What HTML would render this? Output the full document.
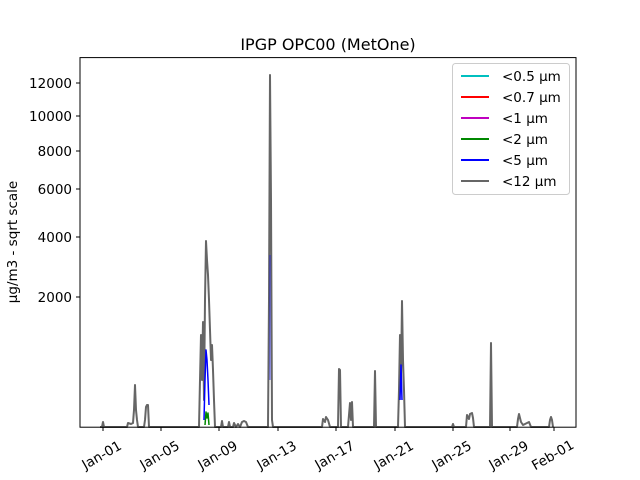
<!DOCTYPE html>
<html><head><meta charset="utf-8"><style>body{margin:0;background:#fff}svg{display:block}</style></head><body>
<svg width="640" height="480" xmlns="http://www.w3.org/2000/svg" font-family="DejaVu Sans, Liberation Sans, sans-serif">
<rect width="640" height="480" fill="#fff"/>
<text x="328" y="50" font-size="16" text-anchor="middle">IPGP OPC00 (MetOne)</text>
<text transform="translate(17,242) rotate(-90)" font-size="13.5" text-anchor="middle">µg/m3 - sqrt scale</text>
<g fill="none" stroke-linejoin="round">
<polyline stroke="#666" stroke-width="2" points="100,427 102,427 103,422 104,427 127,427 128,423 131,424 133,423 134,410 135,385 136,410 137,420 138,427 144,427 145,420 146,407 147,405 148,405 149,427 199,427 200,380 201,335 202,380 203,322 204,400 205,300 206,241 207,260 208,275 209,300 210,330 211,360 212,345 213,370 214,400 215,427 221,427 222,421 223,427 228,427 229,422 230,427 233,427 234,423 236,427 238,424 240,427 242,422 244,421 246,422 248,427 268,427 269,300 270,75 271,200 272,420 273,427 322,427 323,419 325,422 326,417 328,420 330,427 338,427 339,369 340,370 341,427 348,427 349,415 350,403 351,420 352,402 353,427 374,427 375,371 376,427 398,427 399,390 400,335 401,380 402,301 403,360 404,390 405,427 452,427 453,424 454,427 466,427 467,415 469,419 470,414 472,413 473,418 474,427 490,427 491,343 492,427 517,427 518,419 519,414 521,422 523,425 529,422 531,427 549,427 550,420 551,417 552,420 553,427"/>
<polyline stroke="#00f" stroke-width="1.5" points="204,420 205,380 206,350 207,360 208,380 209,405"/>
<polyline stroke="#00f" stroke-width="1" stroke-opacity="0.6" points="270,380 270,255"/>
<polyline stroke="#00f" stroke-width="1.5" points="400,400 401,365 402,400"/>
<polyline stroke="#080" stroke-width="1.5" points="205,425 206,412 207,418 208,413 209,425"/>
</g>
<rect x="80" y="57.6" width="496" height="369.6" fill="none" stroke="#000" stroke-width="1"/>
<g font-size="13.5" text-anchor="end">
<line x1="76" y1="83" x2="80" y2="83" stroke="#000"/><text x="72" y="88">12000</text>
<line x1="76" y1="116" x2="80" y2="116" stroke="#000"/><text x="72" y="121">10000</text>
<line x1="76" y1="151" x2="80" y2="151" stroke="#000"/><text x="72" y="156">8000</text>
<line x1="76" y1="189" x2="80" y2="189" stroke="#000"/><text x="72" y="194">6000</text>
<line x1="76" y1="237" x2="80" y2="237" stroke="#000"/><text x="72" y="242">4000</text>
<line x1="76" y1="297" x2="80" y2="297" stroke="#000"/><text x="72" y="302">2000</text>
</g>
<g font-size="13.5" text-anchor="middle">
<g transform="translate(103,427)"><line y2="4" stroke="#000"/><text transform="translate(1,32) rotate(-30)">Jan-01</text></g>
<g transform="translate(161,427)"><line y2="4" stroke="#000"/><text transform="translate(1,32) rotate(-30)">Jan-05</text></g>
<g transform="translate(219,427)"><line y2="4" stroke="#000"/><text transform="translate(1,32) rotate(-30)">Jan-09</text></g>
<g transform="translate(278,427)"><line y2="4" stroke="#000"/><text transform="translate(1,32) rotate(-30)">Jan-13</text></g>
<g transform="translate(336,427)"><line y2="4" stroke="#000"/><text transform="translate(1,32) rotate(-30)">Jan-17</text></g>
<g transform="translate(395,427)"><line y2="4" stroke="#000"/><text transform="translate(1,32) rotate(-30)">Jan-21</text></g>
<g transform="translate(453,427)"><line y2="4" stroke="#000"/><text transform="translate(1,32) rotate(-30)">Jan-25</text></g>
<g transform="translate(510,427)"><line y2="4" stroke="#000"/><text transform="translate(1,32) rotate(-30)">Jan-29</text></g>
<g transform="translate(554,427)"><line y2="4" stroke="#000"/><text transform="translate(1,32) rotate(-30)">Feb-01</text></g>
</g>
<rect x="452.5" y="63.5" width="117" height="131" rx="3" fill="#fff" fill-opacity="0.8" stroke="#ccc"/>
<g font-size="13.5" stroke-width="2">
<line x1="461" y1="76" x2="489" y2="76" stroke="#00bfbf"/><text x="502" y="81">&lt;0.5 µm</text>
<line x1="461" y1="97" x2="489" y2="97" stroke="#f00"/><text x="502" y="102">&lt;0.7 µm</text>
<line x1="461" y1="118" x2="489" y2="118" stroke="#bf00bf"/><text x="502" y="123">&lt;1 µm</text>
<line x1="461" y1="139" x2="489" y2="139" stroke="#080"/><text x="502" y="144">&lt;2 µm</text>
<line x1="461" y1="160" x2="489" y2="160" stroke="#00f"/><text x="502" y="165">&lt;5 µm</text>
<line x1="461" y1="181" x2="489" y2="181" stroke="#666"/><text x="502" y="186">&lt;12 µm</text>
</g>
</svg>
</body></html>
